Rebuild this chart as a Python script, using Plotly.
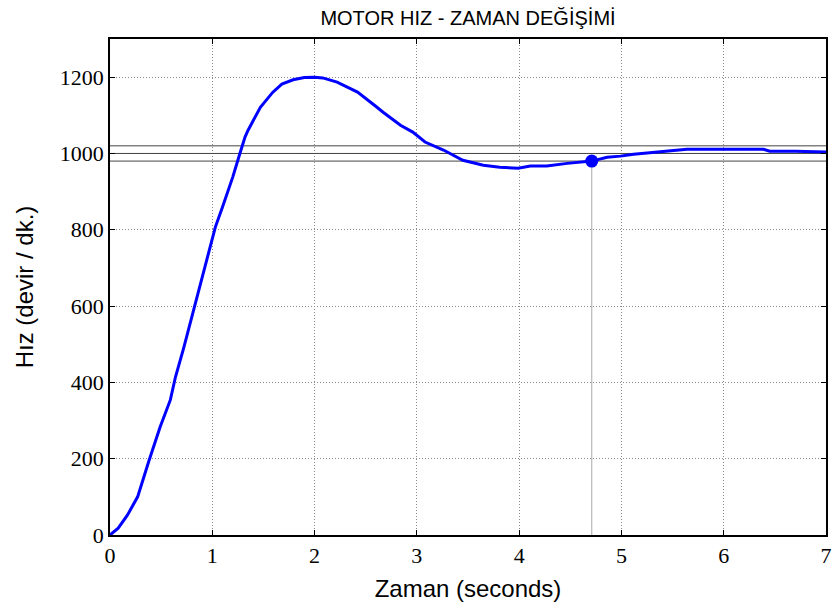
import plotly.graph_objects as go

time_s = [0.0, 0.08, 0.17, 0.27, 0.38, 0.49, 0.59, 0.64, 0.72, 0.79, 0.88, 0.98, 1.03, 1.1, 1.2,
          1.27, 1.32, 1.35, 1.43, 1.47, 1.59, 1.68, 1.79, 1.9, 2.0, 2.08, 2.22, 2.42, 2.61, 2.67,
          2.84, 2.96, 3.08, 3.26, 3.45, 3.65, 3.81, 3.99, 4.11, 4.27, 4.47, 4.6, 4.71, 4.86,
          4.99, 5.12, 5.25, 5.44, 5.64, 6.0, 6.39, 6.45, 6.7, 7.0]
speed_rpm = [0, 18, 52, 100, 194, 283, 354, 414, 490, 563, 655, 760, 807, 860, 938,
             1000, 1043, 1061, 1100, 1121, 1160, 1182, 1193, 1199, 1200, 1198, 1187, 1161, 1121, 1108,
             1074, 1056, 1030, 1009, 982, 969, 964, 961, 967, 967, 974, 977, 980, 990,
             993, 998, 1001, 1006, 1011, 1011, 1011, 1006, 1006, 1004]
settling_time = [4.71]
settling_value = [980]
band_levels = [1020, 1000, 980]
x_ticks = [0, 1, 2, 3, 4, 5, 6, 7]
y_ticks = [0, 200, 400, 600, 800, 1000, 1200]

fig = go.Figure()
for lv in band_levels:
    fig.add_trace(go.Scatter(x=[0, 7], y=[lv, lv], mode="lines",
                             line=dict(color="#444444", width=1), hoverinfo="skip", showlegend=False))
fig.add_trace(go.Scatter(x=[settling_time[0], settling_time[0]], y=[0, settling_value[0]], mode="lines",
                         line=dict(color="#aaaaaa", width=1), hoverinfo="skip", showlegend=False))
fig.add_trace(go.Scatter(x=time_s, y=speed_rpm, mode="lines",
                         line=dict(color="#0000FF", width=3), showlegend=False))
fig.add_trace(go.Scatter(x=settling_time, y=settling_value, mode="markers",
                         marker=dict(color="#0000FF", size=13), showlegend=False))

axis_common = dict(showline=True, linecolor="black", linewidth=1.5, mirror="ticks",
                   ticks="inside", ticklen=5, tickcolor="black", showgrid=True,
                   gridcolor="#8a8a8a", griddash="1px,2px", gridwidth=1, zeroline=False,
                   automargin=False,
                   tickfont=dict(family="Liberation Serif", size=22, color="black"))

fig.update_xaxes(range=[0, 7], tickvals=x_ticks, **axis_common,
                 title=dict(text="Zaman (seconds)", font=dict(family="Liberation Sans", size=24, color="black"),
                            standoff=13))
fig.update_yaxes(range=[0, 1300], tickvals=y_ticks, **axis_common,
                 title=dict(text="Hız (devir / dk.)", font=dict(family="Liberation Sans", size=24, color="black"),
                            standoff=19))

fig.update_layout(
    width=832, height=611,
    margin=dict(l=110, r=6, t=39, b=76),
    plot_bgcolor="white", paper_bgcolor="white",
    title=dict(text="MOTOR HIZ - ZAMAN DEĞİŞİMİ", x=0.5, xref="paper", xanchor="center",
               y=1 - 18 / 611, yanchor="middle",
               font=dict(family="Liberation Sans", size=20, color="black")),
)

fig.write_html("out.html", config={"displayModeBar": False},
               post_script="document.body.style.margin='0px';document.body.style.overflow='hidden';")
